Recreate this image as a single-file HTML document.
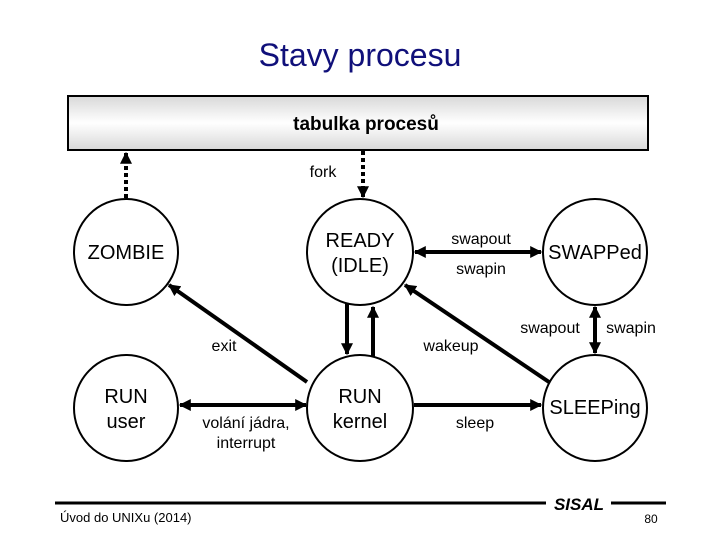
<!DOCTYPE html>
<html><head><meta charset="utf-8"><style>
html,body{margin:0;padding:0;background:#fff;}
svg{display:block;}
text{font-family:"Liberation Sans",sans-serif;}
</style></head><body>
<svg width="720" height="540" viewBox="0 0 720 540" xmlns="http://www.w3.org/2000/svg">
<defs>
<linearGradient id="g" x1="0" y1="0" x2="0" y2="1">
<stop offset="0" stop-color="#d8d8d8"/><stop offset="0.5" stop-color="#ffffff"/><stop offset="1" stop-color="#d8d8d8"/>
</linearGradient>
<marker id="a" viewBox="0 0 10 10" refX="9" refY="5" markerWidth="3" markerHeight="3" orient="auto-start-reverse">
<path d="M0,0 L10,5 L0,10 z" fill="#000"/></marker>
</defs>
<text x="360" y="66" text-anchor="middle" font-size="32" fill="#10107a">Stavy procesu</text>
<rect x="68" y="96" width="580" height="54" fill="url(#g)" stroke="#000" stroke-width="2"/>
<text x="366" y="130" text-anchor="middle" font-size="19" font-weight="bold">tabulka procesů</text>

<g fill="#fff" stroke="#000" stroke-width="2">
<ellipse cx="126" cy="252" rx="52" ry="53"/>
<ellipse cx="360" cy="252" rx="53" ry="53"/>
<ellipse cx="595" cy="252" rx="52" ry="53"/>
<ellipse cx="126" cy="408" rx="52" ry="53"/>
<ellipse cx="360" cy="408" rx="53" ry="53"/>
<ellipse cx="595" cy="408" rx="52" ry="53"/>
</g>
<g font-size="20" text-anchor="middle">
<text x="126" y="259">ZOMBIE</text>
<text x="360" y="247">READY</text><text x="360" y="272">(IDLE)</text>
<text x="595" y="259">SWAPPed</text>
<text x="126" y="403">RUN</text><text x="126" y="428">user</text>
<text x="360" y="403">RUN</text><text x="360" y="428">kernel</text>
<text x="595" y="414">SLEEPing</text>
</g>

<g stroke="#000" stroke-width="4" fill="none">
<line x1="126" y1="198" x2="126" y2="153" stroke-dasharray="4,3" marker-end="url(#a)"/>
<line x1="363" y1="151" x2="363" y2="197" stroke-dasharray="4,3" marker-end="url(#a)"/>
<line x1="415" y1="252" x2="541" y2="252" marker-start="url(#a)" marker-end="url(#a)"/>
<line x1="595" y1="307" x2="595" y2="353" marker-start="url(#a)" marker-end="url(#a)"/>
<line x1="180" y1="405" x2="306" y2="405" marker-start="url(#a)" marker-end="url(#a)"/>
<line x1="414" y1="405" x2="541" y2="405" marker-end="url(#a)"/>
<line x1="347" y1="304" x2="347" y2="354" marker-end="url(#a)"/>
<line x1="373" y1="357" x2="373" y2="307" marker-end="url(#a)"/>
<line x1="307" y1="382" x2="169" y2="285" marker-end="url(#a)"/>
<line x1="549" y1="382" x2="405" y2="285" marker-end="url(#a)"/>
</g>
<g font-size="16" text-anchor="middle">
<text x="323" y="177">fork</text>
<text x="481" y="244">swapout</text>
<text x="481" y="274">swapin</text>
<text x="550" y="333">swapout</text>
<text x="631" y="333">swapin</text>
<text x="224" y="351">exit</text>
<text x="451" y="351">wakeup</text>
<text x="246" y="428">volání jádra,</text>
<text x="246" y="448">interrupt</text>
<text x="475" y="428">sleep</text>
</g>
<line x1="55" y1="503" x2="546" y2="503" stroke="#000" stroke-width="3"/>
<line x1="611" y1="503" x2="666" y2="503" stroke="#000" stroke-width="3"/>
<text x="579" y="510" text-anchor="middle" font-size="17" font-style="italic" font-weight="bold">SISAL</text>
<text x="60" y="522" font-size="13">Úvod do UNIXu (2014)</text>
<text x="651" y="523" text-anchor="middle" font-size="12">80</text>
</svg>
</body></html>
